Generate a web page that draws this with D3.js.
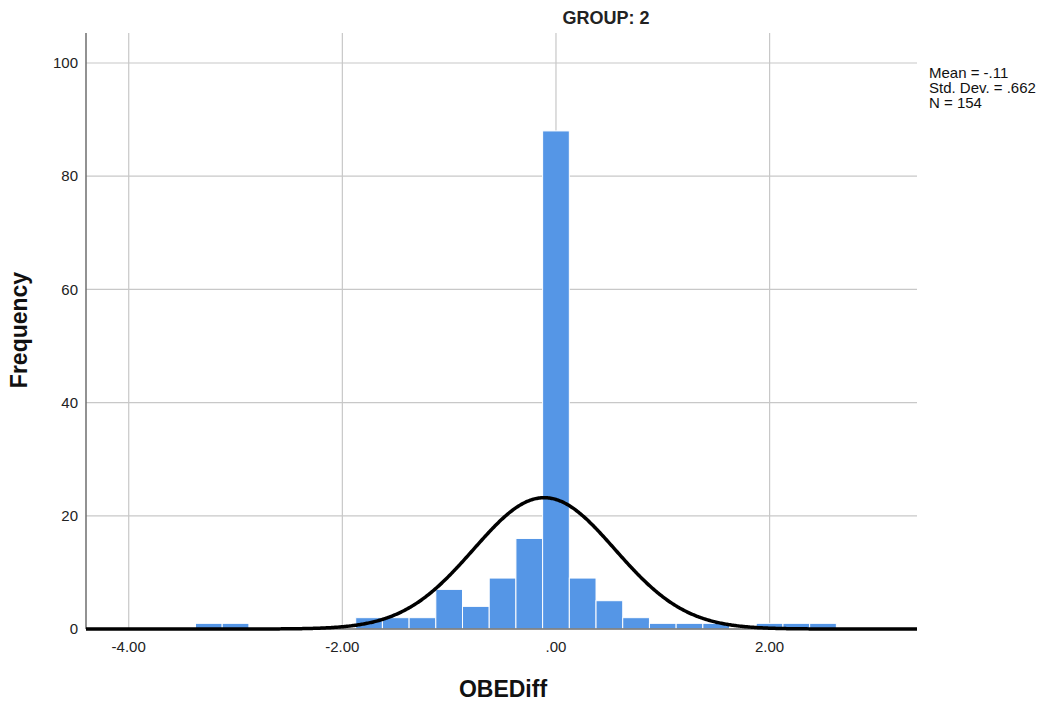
<!DOCTYPE html>
<html>
<head>
  <meta charset="utf-8">
  <script src="https://d3js.org/d3.v7.min.js"></script>
  <style>
    body { margin: 0; background: #fff; }
    text { font-family: "Liberation Sans", Arial, sans-serif; }
  </style>
</head>
<body>
  <div id="chart"></div>

  <script>
    // histogram bins (lower edge, width .25) and frequencies
    const binLow = [-3.375, -3.125, -1.875, -1.625, -1.375, -1.125, -0.875, -0.625, -0.375, -0.125,
                    0.125, 0.375, 0.625, 0.875, 1.125, 1.375, 1.875, 2.125, 2.375];
    const freq   = [1, 1, 2, 2, 2, 7, 4, 9, 16, 88,
                    9, 5, 2, 1, 1, 1, 1, 1, 1];
    const binWidth = 0.25;

    const xTicks = [-4, -2, 0, 2];
    const xTickLabels = ["-4.00", "-2.00", ".00", "2.00"];
    const yTicks = [0, 20, 40, 60, 80, 100];

    // summary stats shown in the legend
    const statMean = -0.11;
    const statSd = 0.662;
    const statN = 154;
    const legendLines = ["Mean = -.11", "Std. Dev. = .662", "N = 154"];

    const width = 1046, height = 705;
    const plotLeft = 86, plotRight = 917, plotTop = 33, plotBottom = 629;

    const svg = d3.select("#chart")
      .append("svg")
      .attr("width", width)
      .attr("height", height);

    const x = d3.scaleLinear().domain([-4.4, 3.38]).range([plotLeft, plotRight]);
    const y = d3.scaleLinear().domain([0, 105.3]).range([plotBottom, plotTop]);

    // grid lines
    svg.append("g")
      .selectAll("line")
      .data(yTicks.filter(d => d > 0))
      .enter().append("line")
      .attr("x1", plotLeft).attr("x2", plotRight)
      .attr("y1", d => y(d)).attr("y2", d => y(d))
      .attr("stroke", "#c8c8c8").attr("stroke-width", 1.2);

    svg.append("g")
      .selectAll("line")
      .data(xTicks)
      .enter().append("line")
      .attr("x1", d => x(d)).attr("x2", d => x(d))
      .attr("y1", plotTop).attr("y2", plotBottom)
      .attr("stroke", "#c8c8c8").attr("stroke-width", 1.2);

    // bars
    svg.append("g")
      .selectAll("rect")
      .data(binLow.map((b, i) => ({ lo: b, n: freq[i] })))
      .enter().append("rect")
      .attr("x", d => x(d.lo))
      .attr("width", d => x(d.lo + binWidth) - x(d.lo))
      .attr("y", d => y(d.n))
      .attr("height", d => y(0) - y(d.n))
      .attr("fill", "#5596e6")
      .attr("stroke", "#ffffff")
      .attr("stroke-width", 1);

    // axes lines
    svg.append("line")
      .attr("x1", plotLeft).attr("x2", plotLeft)
      .attr("y1", plotTop).attr("y2", plotBottom)
      .attr("stroke", "#6e6e6e").attr("stroke-width", 1.5);
    svg.append("line")
      .attr("x1", plotLeft).attr("x2", plotRight)
      .attr("y1", plotBottom).attr("y2", plotBottom)
      .attr("stroke", "#6e6e6e").attr("stroke-width", 1.5);

    // fitted normal curve (scaled to counts)
    const pdf = v => Math.exp(-0.5 * Math.pow((v - statMean) / statSd, 2)) / (statSd * Math.sqrt(2 * Math.PI));
    const curvePts = d3.range(x.domain()[0], x.domain()[1] + 0.001, 0.01);
    svg.append("path")
      .datum(curvePts)
      .attr("fill", "none")
      .attr("stroke", "#000")
      .attr("stroke-width", 3.5)
      .attr("d", d3.line().x(d => x(d)).y(d => y(statN * binWidth * pdf(d))));

    // tick labels
    svg.append("g")
      .selectAll("text")
      .data(yTicks)
      .enter().append("text")
      .attr("x", 78)
      .attr("y", d => y(d))
      .attr("dy", "0.35em")
      .attr("text-anchor", "end")
      .attr("font-size", 15)
      .attr("fill", "#222")
      .text(d => d);

    svg.append("g")
      .selectAll("text")
      .data(xTicks)
      .enter().append("text")
      .attr("x", d => x(d))
      .attr("y", 652)
      .attr("text-anchor", "middle")
      .attr("font-size", 15)
      .attr("fill", "#222")
      .text((d, i) => xTickLabels[i]);

    // axis titles
    svg.append("text")
      .attr("transform", "translate(27,330) rotate(-90)")
      .attr("text-anchor", "middle")
      .attr("font-size", 23)
      .attr("font-weight", "bold")
      .attr("fill", "#111")
      .text("Frequency");

    svg.append("text")
      .attr("x", 503)
      .attr("y", 697)
      .attr("text-anchor", "middle")
      .attr("font-size", 23)
      .attr("font-weight", "bold")
      .attr("fill", "#111")
      .text("OBEDiff");

    svg.append("text")
      .attr("x", 606)
      .attr("y", 23.5)
      .attr("text-anchor", "middle")
      .attr("font-size", 18)
      .attr("font-weight", "bold")
      .attr("fill", "#222")
      .text("GROUP: 2");

    // stats legend
    svg.append("g")
      .selectAll("text")
      .data(legendLines)
      .enter().append("text")
      .attr("x", 929)
      .attr("y", (d, i) => 78 + i * 15)
      .attr("font-size", 15)
      .attr("fill", "#111")
      .text(d => d);
  </script>
</body>
</html>
